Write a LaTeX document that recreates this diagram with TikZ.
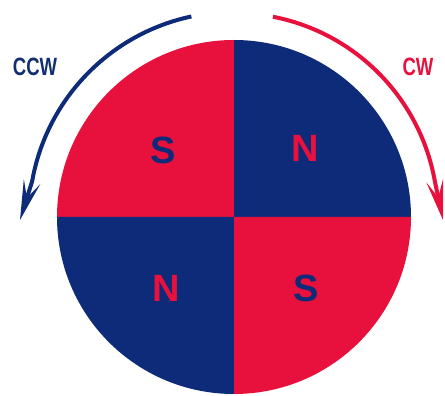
\documentclass[tikz,border=0pt]{standalone}
\usepackage{fontspec}
\setmainfont{Liberation Sans}
\usetikzlibrary{calc,arrows.meta}
\definecolor{magred}{HTML}{E8103C}
\definecolor{magblue}{HTML}{0E2B7A}
\definecolor{txtblue}{HTML}{12306E}
\tikzset{
  pole/.style={font=\bfseries\fontsize{38}{38}\selectfont, inner sep=0pt},
  dirlabel/.style={font=\bfseries\fontsize{25}{25}\selectfont, inner sep=0pt, xscale=0.74},
  rotarrow/.style={line width=4pt, line cap=butt,
    -{Stealth[length=40pt,width=17pt,inset=17pt]}},
}
\begin{document}
\begin{tikzpicture}[x=1pt,y=1pt]
\useasboundingbox (0,0) rectangle (445,396);
\coordinate (C) at (234,179);
% quadrants
\fill[magred]  (C) -- ++(180:177pt) arc[start angle=180,end angle=90,radius=177pt] -- cycle;
\fill[magblue] (C) -- ++(90:177pt) arc[start angle=90,end angle=0,radius=177pt] -- cycle;
\fill[magblue] (C) -- ++(180:177pt) arc[start angle=180,end angle=270,radius=177pt] -- cycle;
\fill[magred]  (C) -- ++(270:177pt) arc[start angle=270,end angle=360,radius=177pt] -- cycle;
% pole letters
\node[pole, text=magblue] (s1) at (163,246) {S};
\node[pole, text=magred]  (n1) at (305,248) {N};
\node[pole, text=magred]  (n2) at (166,108) {N};
\node[pole, text=magblue] (s2) at (306,108) {S};
% arrows
\coordinate (ccwS) at ($(C)+(102:205pt)$);
\coordinate (ccwT) at (20,176);
\coordinate (cwS) at ($(C)+(79:204pt)$);
\coordinate (cwT) at (443,176);
\draw[rotarrow, draw=magblue] (ccwS) arc[start angle=102,end angle=170,radius=205pt] -- (ccwT);
\draw[rotarrow, draw=magred] (cwS) arc[start angle=79,end angle=10,radius=204pt] -- (cwT);
% labels
\node[dirlabel, text=txtblue] (ccw) at (35,329) {CCW};
\node[dirlabel, text=magred] (cw) at (418,329.5) {CW};
\end{tikzpicture}
\end{document}
